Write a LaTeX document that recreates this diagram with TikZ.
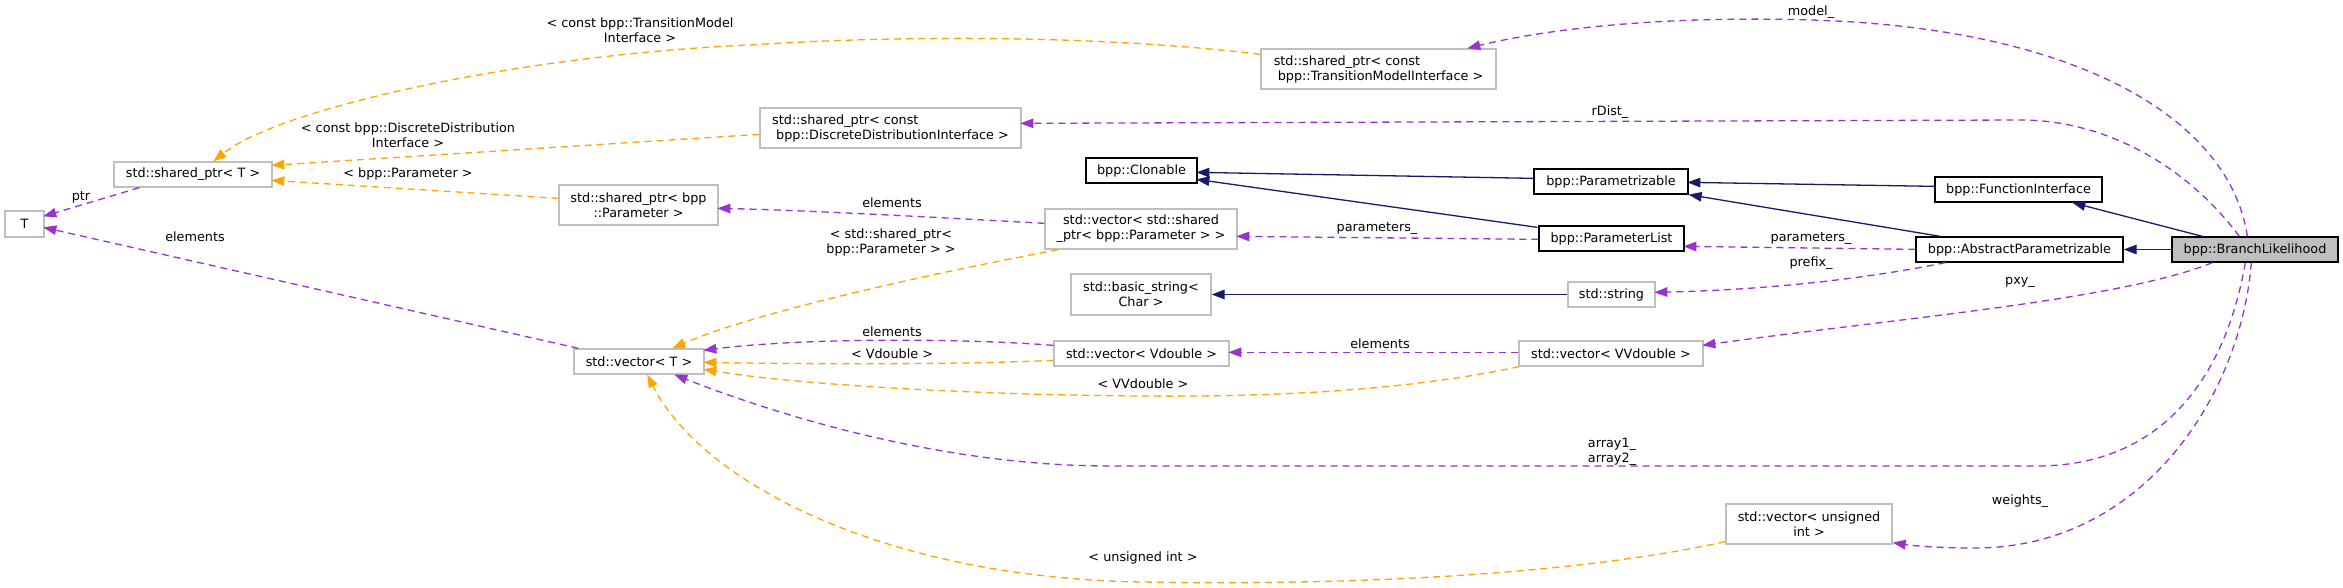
\documentclass[tikz,border=0pt]{standalone}
\usepackage{fontspec}
\setmainfont{DejaVu Sans}
\usetikzlibrary{arrows.meta,calc}
\definecolor{ugray}{HTML}{BFBFBF}
\definecolor{upurple}{HTML}{9A32CD}
\definecolor{uorange}{HTML}{FFA500}
\definecolor{unavy}{HTML}{191970}
\newcommand{\lblfont}{\fontsize{12.8}{15}\selectfont}
\begin{document}
\begin{tikzpicture}[x=1pt,y=-1pt,line width=1.3pt,
  nbox/.style={draw=ugray,fill=white,inner sep=0pt,align=center,font=\lblfont},
  cbox/.style={nbox,draw=black},
  elbl/.style={inner sep=0pt,align=center,font=\lblfont},
  memb/.style={draw=upurple,dash pattern=on 7pt off 5pt,-{Triangle[length=13pt,width=9.5pt,fill=upurple]}},
  tmpl/.style={draw=uorange,dash pattern=on 7pt off 5pt,-{Triangle[length=13pt,width=9.5pt,fill=uorange]}},
  inh/.style={draw=unavy,-{Triangle[length=13pt,width=9.5pt,fill=unavy]}}]
\useasboundingbox[fill=white] (0,0) rectangle (2343,588);

% nodes
\node[nbox,minimum width=39pt,minimum height=26pt] (T) at (24.5,224) {T};
\node[nbox,minimum width=158pt,minimum height=25pt] (sptrT) at (193,174.5) {std::shared\_ptr< T >};
\node[nbox,minimum width=159pt,minimum height=40pt] (sptrParam) at (638.5,205) {std::shared\_ptr< bpp\\::Parameter >};
\node[nbox,minimum width=235pt,minimum height=40pt,align=left] (sptrTM) at (1378.5,69) {std::shared\_ptr< const\\\hspace*{4pt}bpp::TransitionModelInterface >};
\node[nbox,minimum width=261pt,minimum height=40pt,align=left] (sptrDD) at (890.5,128) {std::shared\_ptr< const\\\hspace*{4pt}bpp::DiscreteDistributionInterface >};
\node[cbox,minimum width=111pt,minimum height=25pt] (clonable) at (1141.5,170.5) {bpp::Clonable};
\node[nbox,minimum width=192pt,minimum height=40pt] (vecSP) at (1141,229) {std::vector< std::shared\\\_ptr< bpp::Parameter > >};
\node[nbox,minimum width=140pt,minimum height=41pt] (basicstr) at (1141,294.5) {std::basic\_string<\\Char >};
\node[nbox,minimum width=130pt,minimum height=25pt] (vecT) at (639,361.5) {std::vector< T >};
\node[nbox,minimum width=175pt,minimum height=25pt] (vecVd) at (1141.5,353.5) {std::vector< Vdouble >};
\node[cbox,minimum width=154pt,minimum height=25pt] (parametrizable) at (1611,181.5) {bpp::Parametrizable};
\node[cbox,minimum width=145pt,minimum height=25pt] (paramlist) at (1611.5,238.5) {bpp::ParameterList};
\node[nbox,minimum width=87pt,minimum height=25pt] (stdstring) at (1611.5,294.5) {std::string};
\node[nbox,minimum width=184pt,minimum height=25pt] (vecVVd) at (1611,353.5) {std::vector< VVdouble >};
\node[nbox,minimum width=166pt,minimum height=40pt] (vecUI) at (1809,524) {std::vector< unsigned\\int >};
\node[cbox,minimum width=167pt,minimum height=25pt] (funcif) at (2018.5,189.5) {bpp::FunctionInterface};
\node[cbox,minimum width=207pt,minimum height=25pt] (absparam) at (2019.5,249.5) {bpp::AbstractParametrizable};
\node[cbox,fill=ugray,minimum width=166pt,minimum height=25pt] (branch) at (2255,249.5) {bpp::BranchLikelihood};

% member (purple) edges
\draw[memb] ($(branch.north west)+(76,0)$) .. controls (2230,120) and (2080,28) .. (1811,20)
  .. controls (1640,15) and (1530,33) .. ($(sptrTM.north west)+(207,0)$);
\draw[memb] ($(branch.north west)+(68,0)$) .. controls (2190,170) and (2110,120) .. (2020,120)
  -- ($(sptrDD.north west)+(261,16)$);
\draw[memb] ($(absparam.north west)+(0,13)$) -- ($(paramlist.north west)+(145,21)$);
\draw[memb] ($(absparam.south west)+(30,0)$) .. controls (1860,280) and (1760,290) .. ($(stdstring.north west)+(87,11)$);
\draw[memb] ($(branch.south west)+(41,0)$) .. controls (2120,300) and (1900,318) .. ($(vecVVd.north west)+(184,5)$);
\draw[memb] ($(branch.south west)+(74,0)$) .. controls (2225,380) and (2160,466) .. (2037,466)
  -- (1110,466) .. controls (950,466) and (790,420) .. ($(vecT.south west)+(101,0)$);
\draw[memb] ($(branch.south west)+(80,0)$) .. controls (2240,400) and (2140,548) .. (1975,548)
  .. controls (1940,548) and (1915,546) .. ($(vecUI.south east)+(0,-2)$);
\draw[memb] ($(paramlist.north west)+(0,14)$) -- ($(vecSP.north west)+(192,28)$);
\draw[memb] ($(vecSP.north west)+(0,15)$) .. controls (950,218) and (800,210) .. ($(sptrParam.north west)+(159,24)$);
\draw[memb] ($(vecVVd.north west)+(0,12)$) -- ($(vecVd.north west)+(175,12)$);
\draw[memb] ($(vecVd.north west)+(0,5)$) .. controls (960,338) and (800,338) .. ($(vecT.north west)+(130,2)$);
\draw[memb] ($(sptrT.south west)+(26,0)$) -- ($(T.north west)+(39,6)$);
\draw[memb] ($(vecT.north west)+(5,0)$) -- ($(T.north west)+(39,17)$);

% template (orange) edges
\draw[tmpl] ($(sptrTM.north west)+(0,6)$) .. controls (1100,35) and (900,35) .. (750,45)
  .. controls (520,55) and (280,108) .. ($(sptrT.north west)+(100,0)$);
\draw[tmpl] ($(sptrDD.north west)+(0,27)$) -- ($(sptrT.north west)+(158,4)$);
\draw[tmpl] ($(sptrParam.north west)+(0,14)$) -- ($(sptrT.north west)+(158,19)$);
\draw[tmpl] ($(vecSP.south west)+(14,0)$) .. controls (950,270) and (760,310) .. ($(vecT.north west)+(99,0)$);
\draw[tmpl] ($(vecVd.north west)+(0,20)$) .. controls (950,365) and (800,364) .. ($(vecT.north west)+(130,14)$);
\draw[tmpl] ($(vecVVd.south west)+(1,0)$) .. controls (1400,392) and (1260,397) .. (1143,396)
  .. controls (980,395) and (800,385) .. ($(vecT.north west)+(130,21)$);
\draw[tmpl] ($(vecUI.south west)+(0,-3)$) .. controls (1550,580) and (1300,585) .. (1143,582)
  .. controls (880,578) and (700,480) .. ($(vecT.south west)+(74,0)$);

% inheritance (navy) edges
\draw[inh] ($(parametrizable.north west)+(0,10)$) -- ($(clonable.north west)+(111,15)$);
\draw[inh] ($(paramlist.north west)+(-1,2)$) -- ($(clonable.north west)+(111,22)$);
\draw[inh] ($(funcif.north west)+(0,10)$) -- ($(parametrizable.north west)+(154,14)$);
\draw[inh] ($(absparam.north west)+(25,0)$) -- (parametrizable.south east);
\draw[inh] ($(branch.north west)+(31,0)$) -- ($(funcif.south west)+(138,0)$);
\draw[inh] (branch.west) -- (absparam.east);
\draw[inh] (stdstring.west) -- (basicstr.east);

% edge labels
\node[elbl] (lTM) at (640,30.5) {< const bpp::TransitionModel\\Interface >};
\node[elbl] (lmodel) at (1811,12) {model\_};
\node[elbl] (lrdist) at (1610,112) {rDist\_};
\node[elbl] (lDD) at (408,135) {< const bpp::DiscreteDistribution\\Interface >};
\node[elbl] (lParam) at (408,174) {< bpp::Parameter >};
\node[elbl] (lptr) at (81,197) {ptr};
\node[elbl] (lelT) at (195,237) {elements};
\node[elbl] (lelSP) at (892,203) {elements};
\node[elbl] (lSP) at (891,242.5) {< std::shared\_ptr<\\bpp::Parameter > >};
\node[elbl] (lparams1) at (1377,229) {parameters\_};
\node[elbl] (lparams2) at (1811,239) {parameters\_};
\node[elbl] (lprefix) at (1811,263) {prefix\_};
\node[elbl] (lpxy) at (2020,282) {pxy\_};
\node[elbl] (lelVd) at (892,332) {elements};
\node[elbl] (lVd) at (892,354) {< Vdouble >};
\node[elbl] (lelVVd) at (1380,344) {elements};
\node[elbl] (lVVd) at (1143,384) {< VVdouble >};
\node[elbl] (larray) at (1612,451.5) {array1\_\\array2\_};
\node[elbl] (lweights) at (2020,501) {weights\_};
\node[elbl] (lUI) at (1143,558) {< unsigned int >};
\end{tikzpicture}
\end{document}
